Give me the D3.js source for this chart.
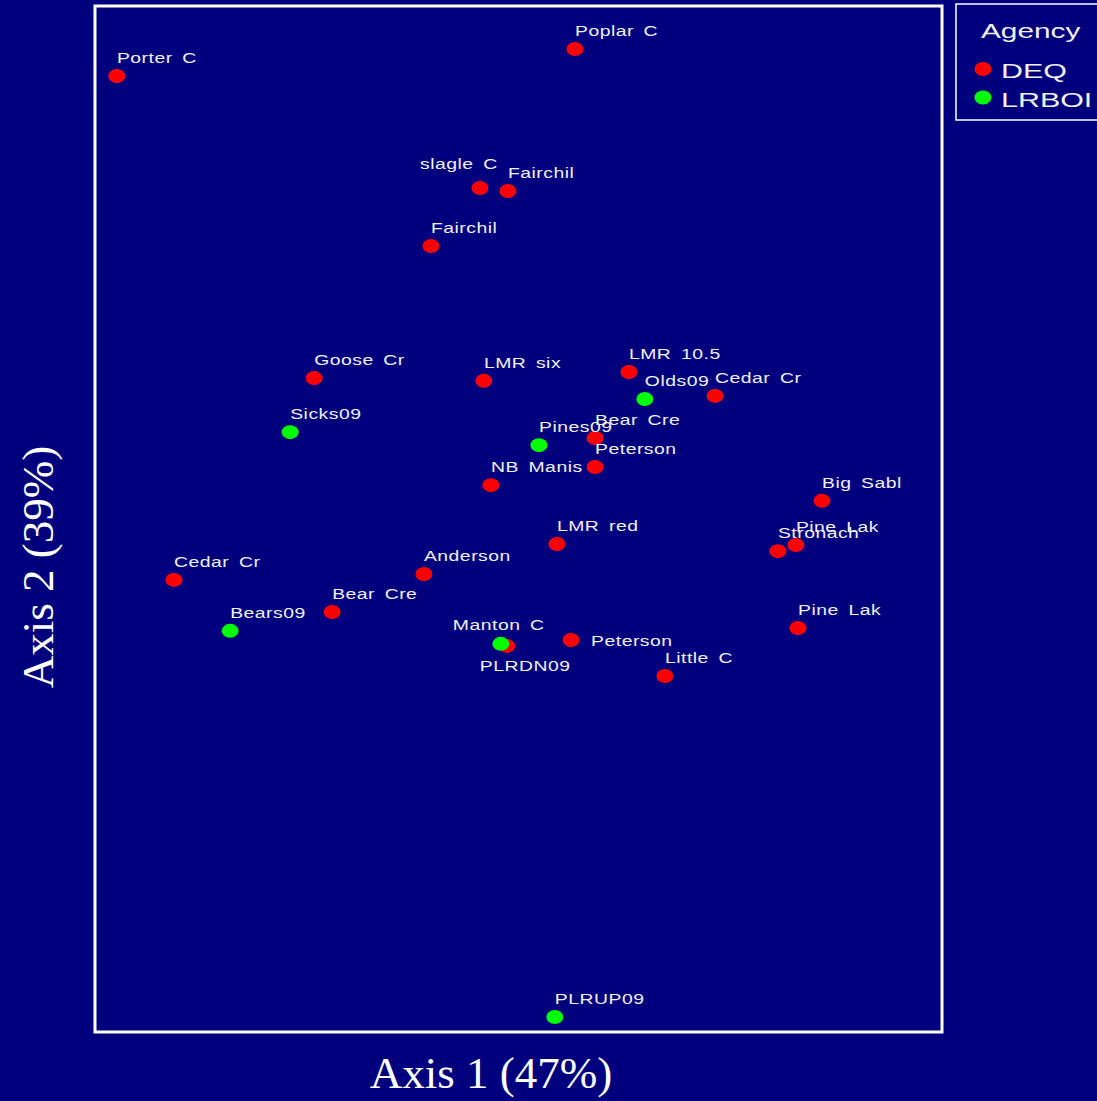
<!DOCTYPE html>
<html>
<head>
<meta charset="utf-8">
<script src="https://cdn.jsdelivr.net/npm/d3@7"></script>
<style>
  html, body { margin: 0; padding: 0; background: #00007f; }
  svg { display: block; }
</style>
</head>
<body>
<script>
// Site ordination scores (Axis 1 / Axis 2) coloured by sampling agency
const sites = ["Porter C", "Poplar C", "slagle C", "Fairchil", "Fairchil", "Goose Cr", "LMR six",
  "LMR 10.5", "Olds09", "Cedar Cr", "Sicks09", "Pines09", "Bear Cre", "Peterson", "NB Manis",
  "Big Sabl", "Pine Lak", "Stronach", "LMR red", "Anderson", "Cedar Cr", "Bear Cre", "Bears09",
  "Pine Lak", "Manton C", "PLRDN09", "Peterson", "Little C", "PLRUP09"];
const agency = ["DEQ", "DEQ", "DEQ", "DEQ", "DEQ", "DEQ", "DEQ",
  "DEQ", "LRBOI", "DEQ", "LRBOI", "LRBOI", "DEQ", "DEQ", "DEQ",
  "DEQ", "DEQ", "DEQ", "DEQ", "DEQ", "DEQ", "DEQ", "LRBOI",
  "DEQ", "DEQ", "LRBOI", "DEQ", "DEQ", "LRBOI"];
const axis1 = [-1.138, 0.160, -0.109, -0.030, -0.248, -0.579, -0.098,
  0.313, 0.358, 0.557, -0.647, 0.058, 0.217, 0.217, -0.078,
  0.860, 0.786, 0.735, 0.109, -0.268, -0.976, -0.528, -0.817,
  0.792, -0.033, -0.050, 0.149, 0.415, 0.103];
const axis2 = [1.295, 1.374, 0.968, 0.959, 0.798, 0.412, 0.404,
  0.430, 0.351, 0.360, 0.254, 0.216, 0.237, 0.152, 0.099,
  0.053, -0.076, -0.094, -0.073, -0.161, -0.178, -0.272, -0.327,
  -0.319, -0.371, -0.365, -0.354, -0.459, -1.456];
const agencies = ["DEQ", "LRBOI"];
const agencyColors = ["#ff0000", "#00ff00"];
const axisTitles = ["Axis 1 (47%)", "Axis 2 (39%)"];
const legendTitle = "Agency";

// where each site's label sits relative to its point
const labelSide = ["above", "above", "upleft", "above", "above", "above", "above",
  "above", "above", "above", "above", "above", "above", "above", "above",
  "above", "above", "above", "above", "above", "above", "above", "above",
  "above", "upleft2", "below", "right", "above", "above"];

const W = 1097, H = 1101;
const frame = { left: 95, right: 942, top: 6, bottom: 1032 };

const svg = d3.select("body").append("svg")
  .attr("width", W).attr("height", H);

svg.append("rect").attr("width", W).attr("height", H).attr("fill", "#00007f");

const x = d3.scaleLinear().domain([-1.2, 1.2]).range([frame.left, frame.right]);
const y = d3.scaleLinear().domain([-1.5, 1.5]).range([frame.bottom, frame.top]);
const color = d3.scaleOrdinal().domain(agencies).range(agencyColors);

// plot frame
svg.append("rect")
  .attr("x", frame.left).attr("y", frame.top)
  .attr("width", frame.right - frame.left).attr("height", frame.bottom - frame.top)
  .attr("fill", "none").attr("stroke", "#ffffff").attr("stroke-width", 3);

const pts = sites.map((s, i) => ({ name: s, agency: agency[i], a1: axis1[i], a2: axis2[i], side: labelSide[i] }));

// red sites first so the green ones sit on top where they coincide
const order = pts.slice().sort((a, b) => agencies.indexOf(a.agency) - agencies.indexOf(b.agency));

svg.append("g").selectAll("ellipse").data(order).join("ellipse")
  .attr("cx", d => x(d.a1)).attr("cy", d => y(d.a2))
  .attr("rx", 8.5).attr("ry", 7)
  .attr("fill", d => color(d.agency));

const offsets = {
  above: [0, -13],
  upleft: [-60, -19],
  upleft2: [-54, -16],
  below: [-21, 27],
  right: [20, 6]
};
const labelScaleX = 1.25;

svg.append("g").selectAll("text").data(pts).join("text")
  .attr("transform", d => {
    const o = offsets[d.side];
    return `translate(${x(d.a1) + o[0]},${y(d.a2) + o[1]}) scale(${labelScaleX},1)`;
  })
  .attr("font-family", "Liberation Sans, Arial, sans-serif")
  .attr("font-size", 15.5)
  .attr("letter-spacing", 0.4)
  .attr("word-spacing", 3)
  .attr("fill", "#f0f0f0")
  .text(d => d.name);

// axis titles
const serif = "Liberation Serif, 'DejaVu Serif', serif";
svg.append("text")
  .attr("x", 491).attr("y", 1088)
  .attr("text-anchor", "middle")
  .attr("font-family", serif).attr("font-size", 45)
  .attr("fill", "#ffffff")
  .text(axisTitles[0]);

svg.append("text")
  .attr("transform", "translate(53,567) rotate(-90)")
  .attr("text-anchor", "middle")
  .attr("font-family", serif).attr("font-size", 45)
  .attr("fill", "#ffffff")
  .text(axisTitles[1]);

// legend
const lg = svg.append("g");
lg.append("rect")
  .attr("x", 956).attr("y", 4).attr("width", 160).attr("height", 116)
  .attr("fill", "none").attr("stroke", "#ffffff").attr("stroke-width", 1.5);
lg.append("text")
  .attr("transform", `translate(981,38) scale(1.42,1)`)
  .attr("font-family", "Liberation Sans, Arial, sans-serif")
  .attr("font-size", 21).attr("fill", "#f0f0f0")
  .text(legendTitle);
agencies.forEach((a, i) => {
  const cy = 69 + i * 28.5;
  lg.append("ellipse")
    .attr("cx", 983).attr("cy", cy).attr("rx", 8.5).attr("ry", 7)
    .attr("fill", color(a));
  lg.append("text")
    .attr("transform", `translate(1001,${cy + 9}) scale(1.45,1)`)
    .attr("font-family", "Liberation Sans, Arial, sans-serif")
    .attr("font-size", 21).attr("fill", "#f0f0f0")
    .text(a);
});
</script>
</body>
</html>
